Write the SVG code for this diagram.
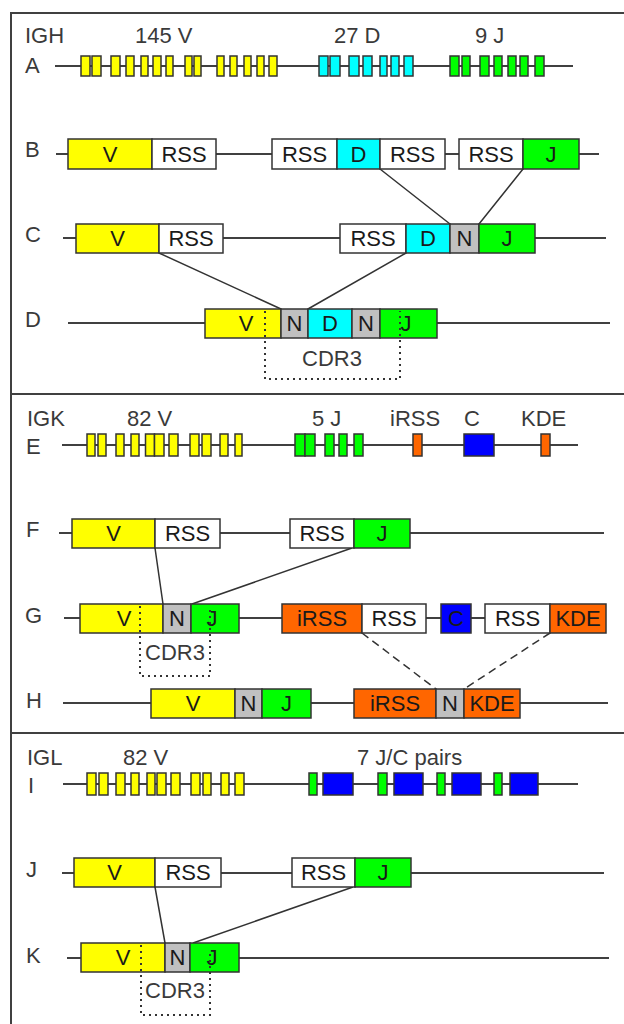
<svg xmlns="http://www.w3.org/2000/svg" width="624" height="1024" viewBox="0 0 624 1024">
<style>
.fr{fill:none;stroke:#404040;stroke-width:2}
.ln{stroke:#404040;stroke-width:2;fill:none}
rect{stroke:#333;stroke-width:1.5}
.bg{fill:#ffffff;stroke:none}
.y{fill:#ffff00}.c{fill:#00ffff}.g{fill:#00ff00}.b{fill:#0000ff}.n{fill:#c0c0c0}.o{fill:#ff6600}.w{fill:#ffffff}
text{font-family:"Liberation Sans",Arial,sans-serif;font-size:22px}
.t{fill:#1a1a1a;text-anchor:middle}
.lb{fill:#3a3a3a}
.con{stroke:#333;stroke-width:1.5;fill:none}
.dash{stroke-dasharray:8 5}
.dot{stroke:#333;stroke-width:2;fill:none;stroke-dasharray:2 4}
</style>
<rect class="bg" width="624" height="1024"/>
<g id="frame">
<path class="fr" d="M624,13 H11 V1024"/>
<path class="fr" d="M11,394 H624 M11,733 H624"/>
</g>
<g id="labels">
<text class="lb" x="25" y="43">IGH</text>
<text class="lb" x="135" y="43">145 V</text>
<text class="lb" x="334" y="43">27 D</text>
<text class="lb" x="475" y="43">9 J</text>
<text class="lb" x="25" y="73">A</text>
<text class="lb" x="25" y="157">B</text>
<text class="lb" x="25" y="242">C</text>
<text class="lb" x="25" y="327">D</text>
<text class="lb" x="27" y="426">IGK</text>
<text class="lb" x="127" y="426">82 V</text>
<text class="lb" x="312" y="426">5 J</text>
<text class="lb" x="390" y="426">iRSS</text>
<text class="lb" x="464" y="426">C</text>
<text class="lb" x="521" y="426">KDE</text>
<text class="lb" x="26" y="454">E</text>
<text class="lb" x="26" y="537">F</text>
<text class="lb" x="25" y="623">G</text>
<text class="lb" x="26" y="708">H</text>
<text class="lb" x="27" y="765">IGL</text>
<text class="lb" x="123" y="765">82 V</text>
<text class="lb" x="357" y="765">7 J/C pairs</text>
<text class="lb" x="28" y="793">I</text>
<text class="lb" x="26" y="877">J</text>
<text class="lb" x="26" y="963">K</text>
</g>
<g id="backbones">
<path class="ln" d="M55,66 H573"/>
<path class="ln" d="M56,154 H599"/>
<path class="ln" d="M63,238 H606"/>
<path class="ln" d="M68,323 H610"/>
<path class="ln" d="M62,445 H578"/>
<path class="ln" d="M59,533 H604"/>
<path class="ln" d="M64,618 H606"/>
<path class="ln" d="M63,703 H608"/>
<path class="ln" d="M63,784 H578"/>
<path class="ln" d="M62,873 H604"/>
<path class="ln" d="M67,958 H609"/>
</g>
<g id="connectors">
<path class="con" d="M380,169 L450,224 M523,169 L479,224"/>
<path class="con" d="M159,253 L281,309 M406,253 L308,309"/>
<path class="con" d="M155,548 L163,604 M352,548 L192,604"/>
<path class="con dash" d="M362,633 L436,689 M550,633 L464,689"/>
<path class="con" d="M155,887 L165,943 M353,887 L193,943"/>
</g>
<g id="rowA">
<g id="A-V" class="y">
<rect x="81" y="56" width="9" height="20"/><rect x="92" y="56" width="9" height="20"/><rect x="111" y="56" width="9" height="20"/><rect x="126" y="56" width="8" height="20"/><rect x="141" y="56" width="7" height="20"/><rect x="153" y="56" width="8" height="20"/><rect x="166" y="56" width="7" height="20"/><rect x="185" y="56" width="7" height="20"/><rect x="194" y="56" width="7" height="20"/><rect x="217" y="56" width="7" height="20"/><rect x="230" y="56" width="7" height="20"/><rect x="244" y="56" width="7" height="20"/><rect x="257" y="56" width="7" height="20"/><rect x="269" y="56" width="8" height="20"/>
</g>
<g id="A-D" class="c">
<rect x="319" y="56" width="9" height="20"/><rect x="330" y="56" width="10" height="20"/><rect x="349" y="56" width="10" height="20"/><rect x="363" y="56" width="9" height="20"/><rect x="380" y="56" width="7" height="20"/><rect x="391" y="56" width="8" height="20"/><rect x="404" y="56" width="9" height="20"/>
</g>
<g id="A-J" class="g">
<rect x="450" y="56" width="9" height="20"/><rect x="462" y="56" width="8" height="20"/><rect x="480" y="56" width="9" height="20"/><rect x="494" y="56" width="8" height="20"/><rect x="508" y="56" width="8" height="20"/><rect x="520" y="56" width="8" height="20"/><rect x="535" y="56" width="9" height="20"/>
</g>
</g>
<g id="rowB">
<g id="B-V"><rect class="y" x="68" y="139" width="84" height="30"/><text class="t" x="110" y="162">V</text></g>
<g id="B-RSS1"><rect class="w" x="152" y="139" width="64" height="30"/><text class="t" x="184" y="162">RSS</text></g>
<g id="B-RSS2"><rect class="w" x="272" y="139" width="65" height="30"/><text class="t" x="304.5" y="162">RSS</text></g>
<g id="B-D"><rect class="c" x="337" y="139" width="43" height="30"/><text class="t" x="358.5" y="162">D</text></g>
<g id="B-RSS3"><rect class="w" x="380" y="139" width="65" height="30"/><text class="t" x="412.5" y="162">RSS</text></g>
<g id="B-RSS4"><rect class="w" x="459" y="139" width="64" height="30"/><text class="t" x="491" y="162">RSS</text></g>
<g id="B-J"><rect class="g" x="523" y="139" width="56" height="30"/><text class="t" x="551" y="162">J</text></g>
</g>
<g id="rowC">
<g id="C-V"><rect class="y" x="76" y="224" width="83" height="29"/><text class="t" x="117.5" y="246">V</text></g>
<g id="C-RSS1"><rect class="w" x="159" y="224" width="64" height="29"/><text class="t" x="191" y="246">RSS</text></g>
<g id="C-RSS2"><rect class="w" x="340" y="224" width="66" height="29"/><text class="t" x="373" y="246">RSS</text></g>
<g id="C-D"><rect class="c" x="406" y="224" width="44" height="29"/><text class="t" x="428" y="246">D</text></g>
<g id="C-N"><rect class="n" x="450" y="224" width="29" height="29"/><text class="t" x="464.5" y="246">N</text></g>
<g id="C-J"><rect class="g" x="479" y="224" width="56" height="29"/><text class="t" x="507" y="246">J</text></g>
</g>
<g id="rowD">
<g id="D-V"><rect class="y" x="205" y="309" width="76" height="29"/><text class="t" x="246" y="331">V</text></g>
<g id="D-N1"><rect class="n" x="281" y="309" width="27" height="29"/><text class="t" x="294.5" y="331">N</text></g>
<g id="D-D"><rect class="c" x="308" y="309" width="44" height="29"/><text class="t" x="330" y="331">D</text></g>
<g id="D-N2"><rect class="n" x="352" y="309" width="28" height="29"/><text class="t" x="366" y="331">N</text></g>
<g id="D-J"><rect class="g" x="380" y="309" width="57" height="29"/><text class="t" x="406" y="331">J</text></g>
<g id="D-CDR3"><path class="dot" d="M265,311 V379 H400 V311"/><text class="lb" x="332" y="366" text-anchor="middle">CDR3</text></g>
</g>
<g id="rowE">
<g id="E-V" class="y">
<rect x="87" y="434" width="8" height="22"/><rect x="98" y="434" width="8" height="22"/><rect x="116" y="434" width="8" height="22"/><rect x="131" y="434" width="8" height="22"/><rect x="145.5" y="434" width="9" height="22"/><rect x="154.5" y="434" width="9.5" height="22"/><rect x="169" y="434" width="9" height="22"/><rect x="190" y="434" width="9" height="22"/><rect x="202" y="434" width="9" height="22"/><rect x="220" y="434" width="8" height="22"/><rect x="235" y="434" width="7" height="22"/>
</g>
<g id="E-J" class="g">
<rect x="295" y="434" width="10" height="22"/><rect x="305" y="434" width="10" height="22"/><rect x="325" y="434" width="9" height="22"/><rect x="339" y="434" width="8" height="22"/><rect x="354" y="434" width="9" height="22"/>
</g>
<g id="E-iRSS"><rect class="o" x="413" y="434" width="9" height="22"/></g>
<g id="E-C"><rect class="b" x="464" y="434" width="30" height="22"/></g>
<g id="E-KDE"><rect class="o" x="541" y="434" width="9" height="22"/></g>
</g>
<g id="rowF">
<g id="F-V"><rect class="y" x="72" y="519" width="83" height="29"/><text class="t" x="113.5" y="541">V</text></g>
<g id="F-RSS1"><rect class="w" x="155" y="519" width="65" height="29"/><text class="t" x="187.5" y="541">RSS</text></g>
<g id="F-RSS2"><rect class="w" x="290" y="519" width="64" height="29"/><text class="t" x="322" y="541">RSS</text></g>
<g id="F-J"><rect class="g" x="354" y="519" width="56" height="29"/><text class="t" x="382" y="541">J</text></g>
</g>
<g id="rowG">
<g id="G-V"><rect class="y" x="80" y="604" width="83" height="29"/><text class="t" x="124" y="626">V</text></g>
<g id="G-N"><rect class="n" x="163" y="604" width="28" height="29"/><text class="t" x="177" y="626">N</text></g>
<g id="G-J"><rect class="g" x="191" y="604" width="48" height="29"/><text class="t" x="212" y="626">J</text></g>
<g id="G-iRSS"><rect class="o" x="282" y="604" width="80" height="29"/><text class="t" x="322" y="626">iRSS</text></g>
<g id="G-RSS1"><rect class="w" x="362" y="604" width="64" height="29"/><text class="t" x="394" y="626">RSS</text></g>
<g id="G-C"><rect class="b" x="441" y="604" width="30" height="29"/><text class="t" x="456" y="626">C</text></g>
<g id="G-RSS2"><rect class="w" x="485" y="604" width="65" height="29"/><text class="t" x="517.5" y="626">RSS</text></g>
<g id="G-KDE"><rect class="o" x="550" y="604" width="56" height="29"/><text class="t" x="578" y="626">KDE</text></g>
<g id="G-CDR3"><path class="dot" d="M140,606 V676 H210 V608"/><text class="lb" x="175" y="660" text-anchor="middle">CDR3</text></g>
</g>
<g id="rowH">
<g id="H-V"><rect class="y" x="151" y="689" width="84" height="29"/><text class="t" x="193" y="711">V</text></g>
<g id="H-N1"><rect class="n" x="235" y="689" width="27" height="29"/><text class="t" x="248.5" y="711">N</text></g>
<g id="H-J"><rect class="g" x="262" y="689" width="49" height="29"/><text class="t" x="286.5" y="711">J</text></g>
<g id="H-iRSS"><rect class="o" x="354" y="689" width="82" height="29"/><text class="t" x="395" y="711">iRSS</text></g>
<g id="H-N2"><rect class="n" x="436" y="689" width="28" height="29"/><text class="t" x="450" y="711">N</text></g>
<g id="H-KDE"><rect class="o" x="464" y="689" width="56" height="29"/><text class="t" x="492" y="711">KDE</text></g>
</g>
<g id="rowI">
<g id="I-V" class="y">
<rect x="87" y="773" width="9" height="22"/><rect x="99" y="773" width="9" height="22"/><rect x="116" y="773" width="9" height="22"/><rect x="131" y="773" width="8" height="22"/><rect x="147" y="773" width="8" height="22"/><rect x="157" y="773" width="9" height="22"/><rect x="171" y="773" width="9" height="22"/><rect x="191" y="773" width="9" height="22"/><rect x="203" y="773" width="8" height="22"/><rect x="221" y="773" width="8" height="22"/><rect x="235" y="773" width="9" height="22"/>
</g>
<g id="I-JC">
<rect class="g" x="309" y="773" width="8" height="22"/><rect class="b" x="323" y="773" width="30" height="22"/>
<rect class="g" x="378" y="773" width="9" height="22"/><rect class="b" x="394" y="773" width="29" height="22"/>
<rect class="g" x="437" y="773" width="8" height="22"/><rect class="b" x="452" y="773" width="29" height="22"/>
<rect class="g" x="494" y="773" width="8" height="22"/><rect class="b" x="510" y="773" width="28" height="22"/>
</g>
</g>
<g id="rowJ">
<g id="J-V"><rect class="y" x="74" y="858" width="81" height="29"/><text class="t" x="114.5" y="880">V</text></g>
<g id="J-RSS1"><rect class="w" x="155" y="858" width="66" height="29"/><text class="t" x="188" y="880">RSS</text></g>
<g id="J-RSS2"><rect class="w" x="292" y="858" width="63" height="29"/><text class="t" x="323.5" y="880">RSS</text></g>
<g id="J-J"><rect class="g" x="355" y="858" width="56" height="29"/><text class="t" x="383" y="880">J</text></g>
</g>
<g id="rowK">
<g id="K-V"><rect class="y" x="81" y="943" width="84" height="29"/><text class="t" x="123" y="965">V</text></g>
<g id="K-N"><rect class="n" x="165" y="943" width="25" height="29"/><text class="t" x="177.5" y="965">N</text></g>
<g id="K-J"><rect class="g" x="190" y="943" width="49" height="29"/><text class="t" x="212" y="965">J</text></g>
<g id="K-CDR3"><path class="dot" d="M141,945 V1015 H210 V952"/><text class="lb" x="175" y="998" text-anchor="middle">CDR3</text></g>
</g>
</svg>
